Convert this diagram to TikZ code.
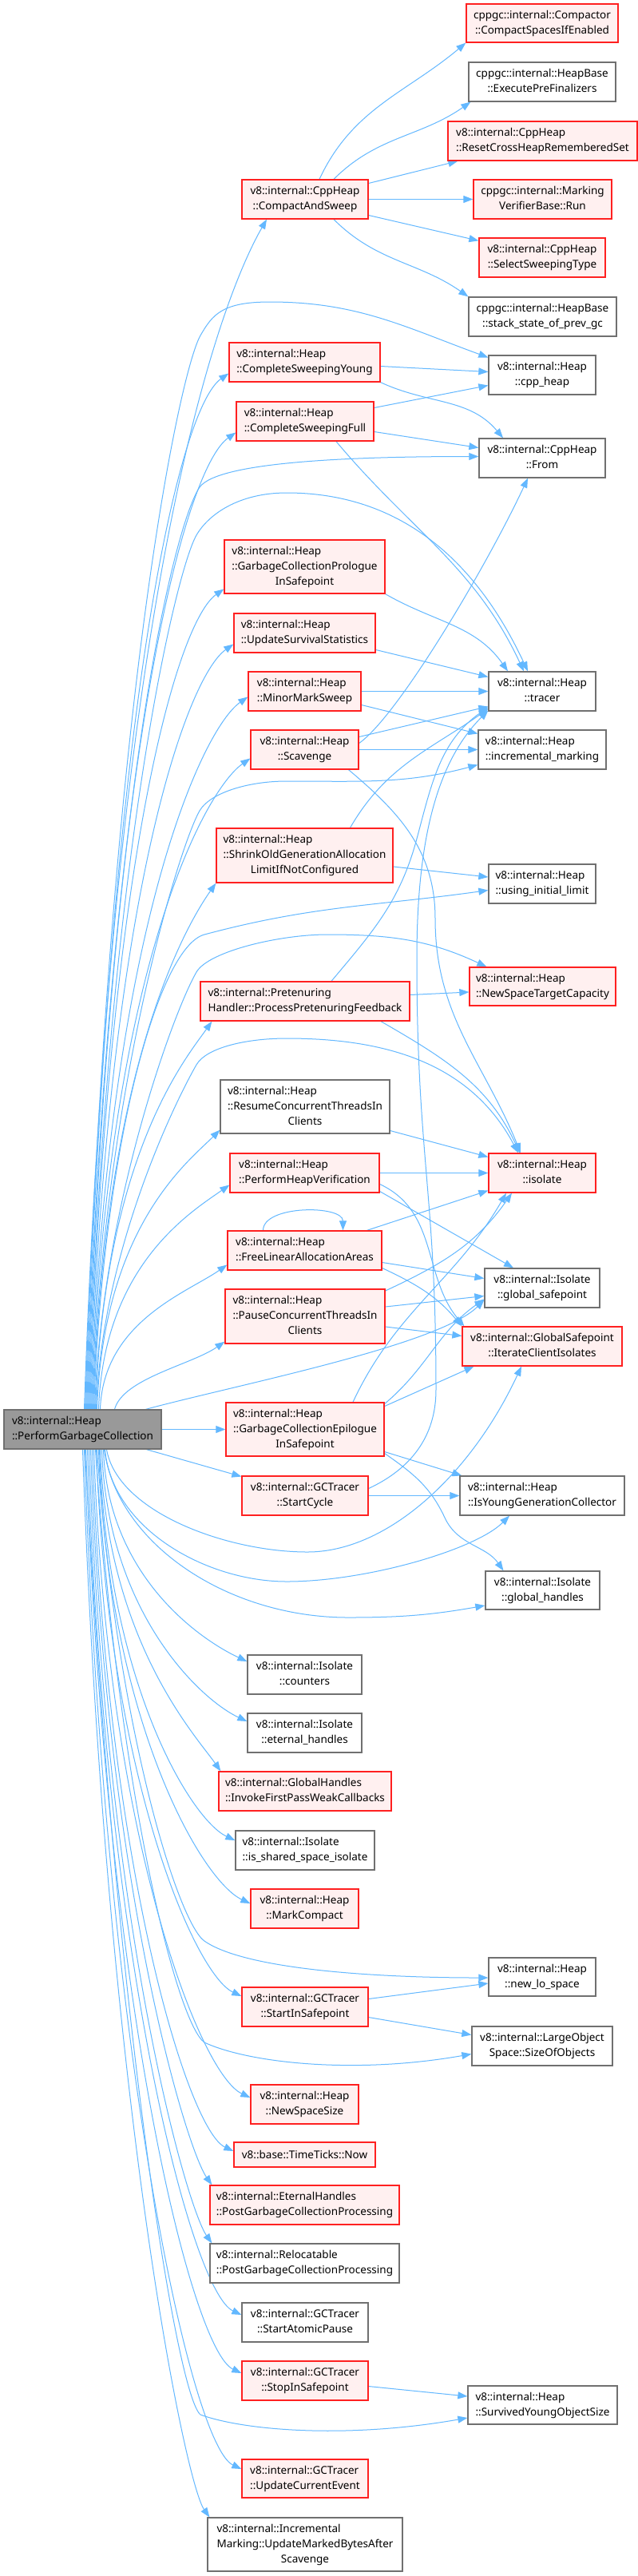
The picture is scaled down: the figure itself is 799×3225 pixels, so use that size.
\documentclass[tikz,border=0pt]{standalone}
\usepackage{fontspec}
\setmainfont{Noto Sans}
\usetikzlibrary{arrows.meta}
\definecolor{eblue}{HTML}{63B8FF}
\definecolor{redb}{HTML}{FF2020}
\definecolor{redf}{HTML}{FFF0F0}
\definecolor{grayb}{HTML}{707070}
\definecolor{mainf}{HTML}{999999}
\pgfdeclarelayer{bg}
\pgfdeclarelayer{edges}
\pgfsetlayers{bg,edges,main}
\newcommand\ltwo[2]{\begin{tabular}{@{}l@{}}#1\\\multicolumn{1}{@{}c@{}}{#2}\end{tabular}}
\newcommand\lthree[3]{\begin{tabular}{@{}l@{}}#1\\#2\\\multicolumn{1}{@{}c@{}}{#3}\end{tabular}}
\tikzset{
  nbase/.style={draw, line width=1.3pt, inner sep=0pt, anchor=center, font=\fontsize{13.5}{19}\selectfont},
  rbox/.style={nbase, draw=redb, fill=redf},
  gbox/.style={nbase, draw=grayb, fill=white},
  mbox/.style={nbase, draw=grayb, fill=mainf},
  sz/.style 2 args={minimum width=#1, minimum height=#2},
  e/.style={draw=eblue, line width=1pt, -{Triangle[length=12pt,width=9pt]}},
}
\begin{document}
\begin{tikzpicture}[x=1pt,y=1pt]
\begin{pgfonlayer}{bg}
\fill[white] (0,0) rectangle (799,-3225);
\end{pgfonlayer}
\useasboundingbox (0,0) rectangle (799,-3225);
% ---------------- nodes ----------------
\node[rbox,sz={190}{48}] (compactor) at (679,-29) {\ltwo{cppgc::internal::Compactor}{::CompactSpacesIfEnabled}};
\node[gbox,sz={184}{49}] (execpre) at (679,-102.5) {\ltwo{cppgc::internal::HeapBase}{::ExecutePreFinalizers}};
\node[rbox,sz={237}{49}] (resetcross) at (679.5,-176.5) {\ltwo{v8::internal::CppHeap}{::ResetCrossHeapRememberedSet}};
\node[rbox,sz={173}{49}] (markver) at (679.5,-249.5) {\ltwo{cppgc::internal::Marking}{VerifierBase::Run}};
\node[rbox,sz={158}{49}] (cas) at (382,-249.5) {\ltwo{v8::internal::CppHeap}{::CompactAndSweep}};
\node[rbox,sz={158}{49}] (selsweep) at (679,-322.5) {\ltwo{v8::internal::CppHeap}{::SelectSweepingType}};
\node[gbox,sz={185}{49}] (stackstate) at (679.5,-396.5) {\ltwo{cppgc::internal::HeapBase}{::stack\_state\_of\_prev\_gc}};
\node[gbox,sz={134}{49}] (cppheap) at (679,-469.5) {\ltwo{v8::internal::Heap}{::cpp\_heap}};
\node[rbox,sz={189}{49}] (csy) at (381.5,-453.5) {\ltwo{v8::internal::Heap}{::CompleteSweepingYoung}};
\node[rbox,sz={172}{49}] (csf) at (382,-527.5) {\ltwo{v8::internal::Heap}{::CompleteSweepingFull}};
\node[gbox,sz={158}{49}] (from) at (679,-573.5) {\ltwo{v8::internal::CppHeap}{::From}};
\node[rbox,sz={201}{67}] (gcpro) at (381.5,-709.5) {\lthree{v8::internal::Heap}{::GarbageCollectionPrologue}{InSafepoint}};
\node[rbox,sz={177}{49}] (uss) at (381.5,-792.5) {\ltwo{v8::internal::Heap}{::UpdateSurvivalStatistics}};
\node[rbox,sz={141}{49}] (mms) at (381.5,-865.5) {\ltwo{v8::internal::Heap}{::MinorMarkSweep}};
\node[gbox,sz={134}{49}] (tracer) at (679,-865.5) {\ltwo{v8::internal::Heap}{::tracer}};
\node[gbox,sz={160}{49}] (incmark) at (679,-938.5) {\ltwo{v8::internal::Heap}{::incremental\_marking}};
\node[rbox,sz={135}{49}] (scav) at (381.5,-938.5) {\ltwo{v8::internal::Heap}{::Scavenge}};
\node[rbox,sz={221}{68}] (shrink) at (381.5,-1071) {\lthree{v8::internal::Heap}{::ShrinkOldGenerationAllocation}{LimitIfNotConfigured}};
\node[gbox,sz={134}{49}] (usinglim) at (679,-1106.5) {\ltwo{v8::internal::Heap}{::using\_initial\_limit}};
\node[rbox,sz={183}{48}] (nstc) at (679.5,-1235) {\ltwo{v8::internal::Heap}{::NewSpaceTargetCapacity}};
\node[rbox,sz={262}{49}] (pret) at (382,-1253.5) {\ltwo{v8::internal::Pretenuring}{Handler::ProcessPretenuringFeedback}};
\node[gbox,sz={212}{67}] (resume) at (382,-1385.5) {\lthree{v8::internal::Heap}{::ResumeConcurrentThreadsIn}{Clients}};
\node[rbox,sz={187}{49}] (phv) at (381.5,-1468.5) {\ltwo{v8::internal::Heap}{::PerformHeapVerification}};
\node[rbox,sz={134}{49}] (isolate) at (679,-1468.5) {\ltwo{v8::internal::Heap}{::isolate}};
\node[rbox,sz={193}{49}] (freelin) at (381.5,-1565.5) {\ltwo{v8::internal::Heap}{::FreeLinearAllocationAreas}};
\node[gbox,sz={144}{49}] (gsafe) at (679,-1612.5) {\ltwo{v8::internal::Isolate}{::global\_safepoint}};
\node[rbox,sz={200}{68}] (pause) at (382,-1648) {\lthree{v8::internal::Heap}{::PauseConcurrentThreadsIn}{Clients}};
\node[rbox,sz={200}{49}] (iterclient) at (679,-1685.5) {\ltwo{v8::internal::GlobalSafepoint}{::IterateClientIsolates}};
\node[mbox,sz={197}{49}] (m) at (103.5,-1789.5) {\ltwo{v8::internal::Heap}{::PerformGarbageCollection}};
\node[rbox,sz={198}{67}] (gcepi) at (382,-1789.5) {\lthree{v8::internal::Heap}{::GarbageCollectionEpilogue}{InSafepoint}};
\node[rbox,sz={158}{49}] (startcycle) at (382,-1872.5) {\ltwo{v8::internal::GCTracer}{::StartCycle}};
\node[gbox,sz={206}{49}] (isyoung) at (679,-1872.5) {\ltwo{v8::internal::Heap}{::IsYoungGenerationCollector}};
\node[gbox,sz={143}{48}] (ghandles) at (679.5,-1991) {\ltwo{v8::internal::Isolate}{::global\_handles}};
\node[gbox,sz={143}{49}] (counters) at (381.5,-2096.5) {\ltwo{v8::internal::Isolate}{::counters}};
\node[gbox,sz={143}{49}] (eternal) at (381.5,-2169.5) {\ltwo{v8::internal::Isolate}{::eternal\_handles}};
\node[rbox,sz={216}{49}] (invoke) at (382,-2242.5) {\ltwo{v8::internal::GlobalHandles}{::InvokeFirstPassWeakCallbacks}};
\node[gbox,sz={174}{49}] (isshared) at (382,-2316.5) {\ltwo{v8::internal::Isolate}{::is\_shared\_space\_isolate}};
\node[rbox,sz={135}{49}] (markcompact) at (381.5,-2389.5) {\ltwo{v8::internal::Heap}{::MarkCompact}};
\node[gbox,sz={134}{48}] (newlo) at (679,-2475) {\ltwo{v8::internal::Heap}{::new\_lo\_space}};
\node[rbox,sz={158}{49}] (startinsafe) at (382,-2512.5) {\ltwo{v8::internal::GCTracer}{::StartInSafepoint}};
\node[gbox,sz={176}{49}] (sizeof) at (679,-2561.5) {\ltwo{v8::internal::LargeObject}{Space::SizeOfObjects}};
\node[rbox,sz={135}{49}] (newspacesize) at (381.5,-2634.5) {\ltwo{v8::internal::Heap}{::NewSpaceSize}};
\node[rbox,sz={177}{31}] (timeticks) at (381.5,-2697.5) {v8::base::TimeTicks::Now};
\node[rbox,sz={237}{49}] (eternalpost) at (381.5,-2760.5) {\ltwo{v8::internal::EternalHandles}{::PostGarbageCollectionProcessing}};
\node[gbox,sz={237}{49}] (relocpost) at (381.5,-2833.5) {\ltwo{v8::internal::Relocatable}{::PostGarbageCollectionProcessing}};
\node[gbox,sz={158}{49}] (startatomic) at (382,-2907.5) {\ltwo{v8::internal::GCTracer}{::StartAtomicPause}};
\node[rbox,sz={158}{49}] (stopinsafe) at (382,-2980.5) {\ltwo{v8::internal::GCTracer}{::StopInSafepoint}};
\node[gbox,sz={187}{48}] (survived) at (679.5,-3011) {\ltwo{v8::internal::Heap}{::SurvivedYoungObjectSize}};
\node[rbox,sz={158}{48}] (updatecur) at (382,-3103) {\ltwo{v8::internal::GCTracer}{::UpdateCurrentEvent}};
\node[gbox,sz={244}{67}] (incmarking) at (382,-3185.5) {\lthree{v8::internal::Incremental}{Marking::UpdateMarkedBytesAfter}{Scavenge}};
% ---------------- edges ----------------
\begin{pgfonlayer}{edges}
% main -> upper callees
\draw[e] ([xshift=2pt]m.north) .. controls +(88:1050) and +(240:110) .. ([xshift=-48pt]cas.south);
\draw[e] ([xshift=3pt]m.north) .. controls +(88:900) and +(240:50) .. (251,-420) .. controls +(60:30) and +(180:60) .. (338,-378) to[out=0,in=160] ([yshift=22pt]cppheap.west);
\draw[e] ([xshift=4pt]m.north) .. controls +(88:900) and +(215:75) .. ([yshift=-14pt]csy.west);
\draw[e] ([xshift=5pt]m.north) .. controls +(88:850) and +(215:75) .. ([yshift=-14pt]csf.west);
\draw[e] ([xshift=6pt]m.north) .. controls +(88:800) and +(235:50) .. (250,-610) .. controls +(55:40) and +(180:150) .. ([yshift=2pt]from.west);
\draw[e] ([xshift=7pt]m.north) .. controls +(88:700) and +(240:50) .. (246,-670) .. controls +(60:30) and +(180:60) .. (359,-617) to[out=0,in=115] ([xshift=-18pt]tracer.north);
\draw[e] ([xshift=8pt]m.north) .. controls +(88:700) and +(215:70) .. ([yshift=-28pt]gcpro.west);
\draw[e] ([xshift=9pt]m.north) .. controls +(88:650) and +(215:70) .. ([yshift=-14pt]uss.west);
\draw[e] ([xshift=10pt]m.north) .. controls +(88:600) and +(215:70) .. ([yshift=-7pt]mms.west);
\draw[e] ([xshift=11pt]m.north) .. controls +(88:550) and +(215:70) .. ([yshift=-11pt]scav.west);
\draw[e] ([xshift=12pt]m.north) .. controls +(88:400) and +(240:50) .. (250,-1015) .. controls +(60:25) and +(180:50) .. (359,-978) to[out=0,in=195] ([yshift=-19pt]incmark.west);
\draw[e] ([xshift=13pt]m.north) .. controls +(88:440) and +(235:60) .. (shrink.south west);
\draw[e] ([xshift=14pt]m.north) .. controls +(88:330) and +(195:60) .. (256,-1170) to[out=15,in=188] ([yshift=-8pt]usinglim.west);
\draw[e] ([xshift=15pt]m.north) .. controls +(88:250) and +(240:60) .. (246,-1217) .. controls +(60:30) and +(180:60) .. (410,-1170) to[out=0,in=155] ([xshift=22pt]nstc.north west);
\draw[e] ([xshift=16pt]m.north) .. controls +(88:320) and +(235:55) .. ([xshift=15pt]pret.south west);
\draw[e] ([xshift=17pt]m.north) .. controls +(88:200) and +(240:50) .. (246,-1333) .. controls +(60:25) and +(180:50) .. (359,-1300) to[out=0,in=118] ([xshift=-30pt]isolate.north);
\draw[e] ([xshift=18pt]m.north) .. controls +(88:230) and +(225:55) .. ([yshift=5pt]resume.south west);
\draw[e] ([xshift=20pt]m.north) .. controls +(88:180) and +(215:60) .. ([yshift=-15pt]phv.west);
\draw[e] ([xshift=22pt]m.north) .. controls +(88:110) and +(215:60) .. ([yshift=-18pt]freelin.west);
\draw[e] ([xshift=40pt]m.north) .. controls +(75:40) and +(215:50) .. ([yshift=3pt]pause.south west);
\draw[e] ([xshift=79pt]m.north) .. controls +(15:120) and +(225:80) .. ([yshift=-15pt]gsafe.west);
\draw[e] (m.east) -- (gcepi.west);
% main -> lower callees
\draw[e] ([xshift=80pt]m.south) -- ([yshift=24pt]startcycle.west);
\draw[e] ([xshift=30pt]m.south) .. controls +(-80:80) and +(180:100) .. (385,-1943) .. controls +(0:100) and +(245:150) .. ([xshift=-26pt]iterclient.south);
\draw[e] ([xshift=28pt]m.south) .. controls +(-85:100) and +(180:100) .. (359,-1980) .. controls +(0:100) and +(225:60) .. ([xshift=-41pt]isyoung.south);
\draw[e] ([xshift=27pt]m.south) .. controls +(-82:120) and +(180:150) .. (436,-2025) to[out=0,in=190] ([yshift=-19pt]ghandles.west);
\draw[e] ([xshift=26pt]m.south) .. controls +(-88:160) and +(155:63) .. ([yshift=16.5pt]counters.west);
\draw[e] ([xshift=24pt]m.south) .. controls +(-88:205) and +(155:64) .. ([yshift=14.5pt]eternal.west);
\draw[e] ([xshift=22pt]m.south) .. controls +(-88:240) and +(125:55) .. ([xshift=3pt]invoke.north west);
\draw[e] ([xshift=21pt]m.south) .. controls +(-88:295) and +(155:60) .. ([yshift=12.5pt]isshared.west);
\draw[e] ([xshift=20pt]m.south) .. controls +(-88:340) and +(155:67) .. ([yshift=6.5pt]markcompact.west);
\draw[e] ([xshift=18pt]m.south) .. controls +(-86:350) and +(145:40) .. (256,-2430) .. controls +(-35:60) and +(180:150) .. ([yshift=-1pt]newlo.west);
\draw[e] ([xshift=17pt]m.south) .. controls +(-88:410) and +(155:64) .. ([yshift=13.5pt]startinsafe.west);
\draw[e] ([xshift=16pt]m.south) .. controls +(-86:450) and +(145:40) .. (256,-2557) .. controls +(-25:60) and +(190:150) .. ([yshift=-10pt]sizeof.west);
\draw[e] ([xshift=14pt]m.south) .. controls +(-88:490) and +(155:69) .. ([yshift=8.5pt]newspacesize.west);
\draw[e] ([xshift=12pt]m.south) .. controls +(-88:530) and +(155:62) .. ([yshift=4.5pt]timeticks.west);
\draw[e] ([xshift=10pt]m.south) .. controls +(-88:550) and +(125:55) .. ([xshift=3pt]eternalpost.north west);
\draw[e] ([xshift=8pt]m.south) .. controls +(-88:600) and +(125:55) .. ([xshift=3pt]relocpost.north west);
\draw[e] ([xshift=6pt]m.south) .. controls +(-88:650) and +(155:68) .. ([yshift=9.5pt]startatomic.west);
\draw[e] ([xshift=4pt]m.south) .. controls +(-88:700) and +(155:68) .. ([yshift=9.5pt]stopinsafe.west);
\draw[e] ([xshift=3pt]m.south) .. controls +(-87:700) and +(140:40) .. (251,-3023) .. controls +(-20:60) and +(190:150) .. ([yshift=-16pt]survived.west);
\draw[e] ([xshift=2pt]m.south) .. controls +(-88:770) and +(155:69) .. ([yshift=12pt]updatecur.west);
\draw[e] ([xshift=0pt]m.south) .. controls +(-88:800) and +(125:55) .. ([xshift=3pt]incmarking.north west);
% CompactAndSweep
\draw[e] ([xshift=18pt]cas.north) to[out=65,in=220] (compactor.south west);
\draw[e] ([xshift=36pt]cas.north) to[out=45,in=215] ([xshift=3pt]execpre.south west);
\draw[e] ([yshift=20pt]cas.east) -- ([xshift=13pt]resetcross.south west);
\draw[e] (cas.east) -- (markver.west);
\draw[e] ([yshift=-20pt]cas.east) -- ([yshift=-4pt]selsweep.north west);
\draw[e] ([xshift=36pt]cas.south) to[out=-45,in=145] (stackstate.north west);
% CompleteSweeping
\draw[e] ([yshift=-5pt]csy.east) -- ([yshift=4pt]cppheap.west);
\draw[e] (csy.south east) to[out=-25,in=130] ([xshift=-49pt]from.north);
\draw[e] ([yshift=17pt]csf.east) -- ([yshift=-13pt]cppheap.west);
\draw[e] ([yshift=-13pt]csf.east) -- ([yshift=13pt]from.west);
\draw[e] ([xshift=39pt]csf.south) to[out=-50,in=115] ([xshift=-23pt]tracer.north);
% tracer group
\draw[e] (gcpro.south east) to[out=-30,in=125] ([xshift=-43pt]tracer.north);
\draw[e] ([yshift=-21pt]uss.east) -- ([yshift=18pt]tracer.west);
\draw[e] (mms.east) -- (tracer.west);
\draw[e] ([yshift=-17pt]mms.east) -- ([yshift=20pt]incmark.west);
\draw[e] ([yshift=16pt]scav.east) -- ([yshift=-19pt]tracer.west);
\draw[e] ([yshift=8pt]scav.east) .. controls +(35:60) and +(245:120) .. ([xshift=-18pt]from.south);
\draw[e] (scav.east) -- (incmark.west);
\draw[e] ([xshift=55pt]scav.south) to[out=-40,in=90] (545,-1150) to[out=-90,in=112] ([xshift=-27pt]isolate.north);
\draw[e] ([xshift=57pt]shrink.north) to[out=60,in=215] ([yshift=-22pt]tracer.west);
\draw[e] ([yshift=-14pt]shrink.east) -- ([yshift=8.5pt]usinglim.west);
\draw[e] ([xshift=33pt]pret.north) to[out=50,in=-105] (522,-1050) to[out=75,in=215] ([yshift=-20pt]tracer.west);
\draw[e] ([yshift=8pt]pret.east) -- ([yshift=-7pt]nstc.west);
\draw[e] ([xshift=95pt]pret.south) to[out=-30,in=115] ([xshift=-28pt]isolate.north);
% isolate / safepoint group
\draw[e] ([yshift=-30pt]resume.east) -- ([yshift=20pt]isolate.west);
\draw[e] (phv.east) -- (isolate.west);
\draw[e] ([yshift=-23pt]phv.east) -- ([xshift=-36pt]gsafe.north);
\draw[e] ([yshift=-14pt]phv.east) to[out=-25,in=130] ([xshift=3pt]iterclient.north west);
\draw[e] ([xshift=-52pt]freelin.north) .. controls +(90:32) and +(90:32) .. ([xshift=48pt]freelin.north);
\draw[e] ([xshift=78pt]freelin.north) -- ([yshift=-22pt]isolate.west);
\draw[e] ([yshift=-15pt]freelin.east) -- ([yshift=12pt]gsafe.west);
\draw[e] ([yshift=-22pt]freelin.east) to[out=-25,in=130] (iterclient.north west);
\draw[e] ([yshift=32pt]pause.east) to[out=25,in=235] ([xshift=-38pt]isolate.south);
\draw[e] ([yshift=12pt]pause.east) -- ([yshift=-10pt]gsafe.west);
\draw[e] ([yshift=-13pt]pause.east) -- ([yshift=13pt]iterclient.west);
\draw[e] ([xshift=60pt]gcepi.north) to[out=65,in=240] ([xshift=-45pt]isolate.south);
\draw[e] ([yshift=32pt]gcepi.east) to[out=40,in=215] ([yshift=-14pt]gsafe.west);
\draw[e] ([yshift=29pt]gcepi.east) -- ([xshift=15pt]iterclient.south west);
\draw[e] ([yshift=-28pt]gcepi.east) -- ([xshift=3pt]isyoung.north west);
\draw[e] ([yshift=-30pt]gcepi.east) to[out=-35,in=115] (557,-1900) to[out=-65,in=125] ([xshift=-49pt]ghandles.north);
\draw[e] (startcycle.east) -- (isyoung.west);
\draw[e] ([yshift=9pt]startcycle.east) to[out=25,in=-90] (546,-1740) .. controls +(0,250) and +(0,-250) .. (522,-1200) .. controls +(0,150) and +(225:90) .. ([yshift=-24pt]tracer.west);
% GCTracer lower
\draw[e] ([yshift=10pt]startinsafe.east) -- ([yshift=-8pt]newlo.west);
\draw[e] ([yshift=-13pt]startinsafe.east) -- ([yshift=14pt]sizeof.west);
\draw[e] ([yshift=-7pt]stopinsafe.east) -- ([yshift=11pt]survived.west);
\end{pgfonlayer}
\end{tikzpicture}
\end{document}
